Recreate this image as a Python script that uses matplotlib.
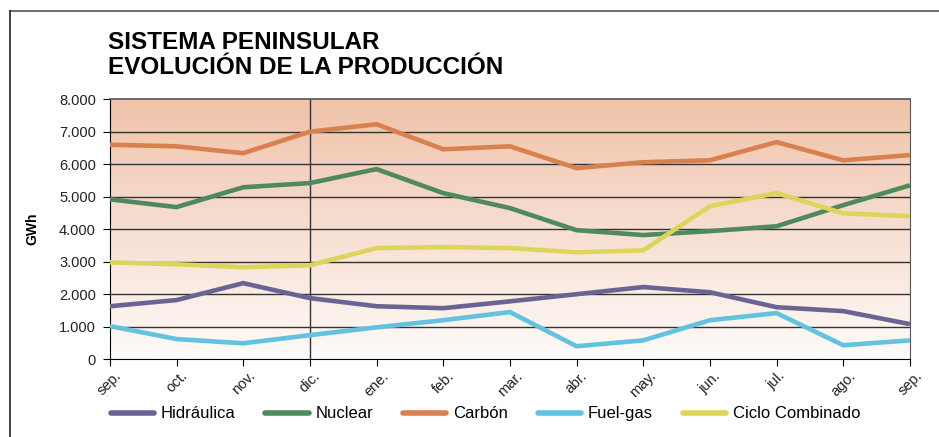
import matplotlib
matplotlib.use("Agg")
import matplotlib.pyplot as plt
import matplotlib.transforms as mtransforms
import numpy as np
from matplotlib.lines import Line2D

# Datos (GWh)
meses = ["sep.", "oct.", "nov.", "dic.", "ene.", "feb.", "mar.", "abr.", "may.", "jun.", "jul.", "ago.", "sep."]
hidraulica = [1630, 1820, 2340, 1880, 1630, 1570, 1780, 2000, 2220, 2060, 1600, 1480, 1080]
nuclear = [4920, 4680, 5290, 5420, 5850, 5110, 4650, 3970, 3820, 3940, 4090, 4740, 5350]
carbon = [6600, 6550, 6340, 7000, 7230, 6460, 6550, 5880, 6060, 6120, 6680, 6120, 6280]
fuel_gas = [1020, 620, 490, 740, 980, 1200, 1450, 400, 580, 1200, 1420, 430, 580]
ciclo = [2980, 2920, 2830, 2890, 3420, 3450, 3420, 3290, 3350, 4710, 5110, 4490, 4400]

series = [("Hidráulica", hidraulica, "#6a6494"),
          ("Nuclear", nuclear, "#4f8a5e"),
          ("Carbón", carbon, "#d9804f"),
          ("Fuel-gas", fuel_gas, "#62c2e0"),
          ("Ciclo Combinado", ciclo, "#dcd55a")]

plt.rcParams['font.family'] = ['Liberation Sans', 'DejaVu Sans']

fig = plt.figure(figsize=(9.39, 4.37), dpi=100)
ax = fig.add_axes([0.117, 0.178, 0.852, 0.595])

x = np.arange(len(meses))

# fondo degradado (arriba salmón, abajo casi blanco)
top = np.array([240, 194, 168]) / 255
bot = np.array([254, 251, 249]) / 255
t = np.linspace(0, 1, 256)[:, None]
grad = (top * (1 - t) + bot * t)[:, None, :]
ax.imshow(grad, extent=[0, len(meses) - 1, 0, 8000], origin="upper", aspect="auto", zorder=0)

for yv in range(1000, 8000, 1000):
    ax.axhline(yv, color="#333333", lw=1.0, zorder=1)
ax.axvline(3, color="#333333", lw=1.0, zorder=1)

for nombre, vals, col in series:
    ax.plot(x, vals, color=col, lw=3.3, solid_capstyle="butt", zorder=3)

ax.set_xlim(0, len(meses) - 1)
ax.set_ylim(0, 8000)
ax.set_yticks(range(0, 8001, 1000))
ax.set_yticklabels(["0"] + ["%d.000" % (v // 1000) for v in range(1000, 8001, 1000)], fontsize=10.5, color="#222222")
ax.set_xticks(x)
ax.set_xticklabels(meses, rotation=45, ha="center", fontsize=10.5, color="#222222")
offset = mtransforms.ScaledTranslation(7 / 100, 0, fig.dpi_scale_trans)
for lab in ax.get_xticklabels():
    lab.set_transform(lab.get_transform() + offset)
ax.tick_params(axis="x", length=5, pad=2)
ax.tick_params(axis="y", length=5, pad=5)
for s in ["top", "right"]:
    ax.spines[s].set_color("#555555")
ax.spines["top"].set_linewidth(1.2)
ax.set_ylabel("GWh", fontsize=10, fontweight="bold", labelpad=14)

fig.text(0.115, 0.875, "SISTEMA PENINSULAR\nEVOLUCIÓN DE LA PRODUCCIÓN", fontsize=17.5,
         fontweight="bold", va="center", ha="left", linespacing=1.1)

# marco de la figura
fig.add_artist(Line2D([0.0107, 1.0], [0.975, 0.975], color="#555555", lw=1.2, transform=fig.transFigure))
fig.add_artist(Line2D([0.0107, 0.0107], [0.0, 0.975], color="#222222", lw=1.2, transform=fig.transFigure))

handles = [Line2D([0], [0], color=c, lw=4, solid_capstyle="round") for _, _, c in series]
fig.legend(handles, [n for n, _, _ in series], loc="center", bbox_to_anchor=(0.517, 0.053),
           ncol=5, frameon=False, fontsize=12, handlelength=2.6, columnspacing=1.8, handletextpad=0.4)

fig.savefig("out.png", dpi=100)
